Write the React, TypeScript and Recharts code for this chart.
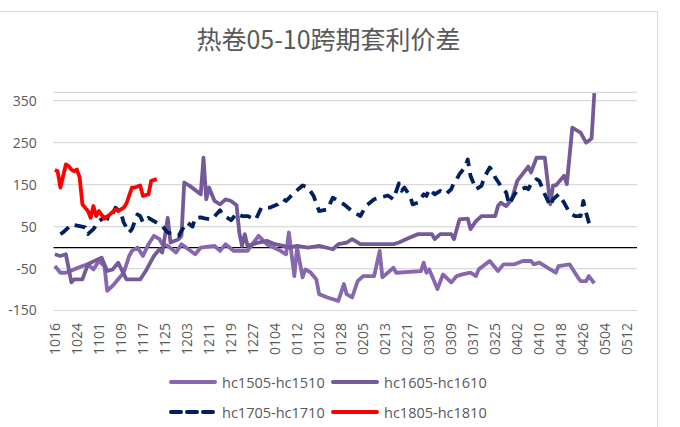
import React from 'react'
import { LineChart, Line, XAxis, YAxis, CartesianGrid, ReferenceLine, Legend } from 'recharts'

// calendar days shown on the date axis (non-leap year)
const monthSpans: Array<[number, number, number]> = [
  [10, 16, 31], [11, 1, 30], [12, 1, 31], [1, 1, 31], [2, 1, 28], [3, 1, 31], [4, 1, 30], [5, 1, 15],
]
const dates: string[] = []
monthSpans.forEach(([m, from, to]) => {
  for (let d = from; d <= to; d++) dates.push(String(m).padStart(2, '0') + String(d).padStart(2, '0'))
})

const yTicks = [-150, -50, 50, 150, 250, 350]

const hc1505: Array<[string, number]> = [
  ['1016', -44], ['1018', -60], ['1020', -60], ['1023', -52], ['1026', -44], ['1028', -40], ['1030', -52],
  ['1101', -32], ['1103', -44], ['1104', -103], ['1106', -91], ['1109', -68], ['1110', -60], ['1112', -20],
  ['1113', -8], ['1115', 0], ['1117', -20], ['1119', 8], ['1121', 28], ['1123', 20], ['1124', 8], ['1126', 4],
  ['1129', -12], ['1201', 8], ['1206', -16], ['1208', 0], ['1213', 4], ['1215', -8], ['1217', 8], ['1220', -8],
  ['1225', -8], ['1229', 28], ['0101', 8], ['0106', -8], ['0108', -16], ['0109', 36], ['0110', -16],
  ['0111', -68], ['0112', 0], ['0114', -71], ['0115', -52], ['0117', -60], ['0119', -76], ['0120', -111],
  ['0123', -119], ['0127', -127], ['0129', -87], ['0130', -111], ['0201', -119], ['0203', -80], ['0205', -68],
  ['0209', -68], ['0211', -8], ['0212', -71], ['0216', -48], ['0217', -60], ['0226', -56], ['0227', -36],
  ['0228', -60], ['0301', -52], ['0304', -99], ['0306', -64], ['0309', -83], ['0311', -68], ['0313', -64],
  ['0316', -60], ['0318', -68], ['0319', -52], ['0323', -32], ['0326', -56], ['0328', -40], ['0401', -40],
  ['0404', -32], ['0407', -32], ['0408', -40], ['0410', -36], ['0414', -52], ['0416', -60], ['0417', -44],
  ['0421', -40], ['0424', -71], ['0425', -80], ['0427', -80], ['0428', -68], ['0430', -85],
]

const hc1605: Array<[string, number]> = [
  ['1016', -16], ['1018', -20], ['1020', -16], ['1022', -83], ['1023', -76], ['1026', -76], ['1028', -40],
  ['1029', -36], ['1102', -24], ['1104', -56], ['1106', -52], ['1108', -36], ['1111', -76], ['1116', -76],
  ['1118', -56], ['1121', -20], ['1123', -4], ['1124', -12], ['1125', 28], ['1126', 71], ['1127', 12],
  ['1130', 20], ['1201', 28], ['1202', 155], ['1204', 147], ['1208', 127], ['1209', 214], ['1210', 115],
  ['1211', 143], ['1213', 111], ['1215', 103], ['1217', 115], ['1219', 111], ['1221', 101], ['1222', 36],
  ['1223', 4], ['1224', 32], ['1225', 4], ['1229', 12], ['0101', 16], ['0104', 8], ['0107', 4], ['0109', 0],
  ['0112', 4], ['0116', 0], ['0120', 4], ['0125', -4], ['0127', 8], ['0130', 12], ['0201', 20], ['0204', 8],
  ['0216', 8], ['0218', 12], ['0222', 24], ['0225', 32], ['0302', 32], ['0303', 20], ['0305', 32],
  ['0309', 32], ['0310', 20], ['0312', 67], ['0315', 69], ['0316', 44], ['0318', 63], ['0320', 75],
  ['0323', 75], ['0325', 75], ['0326', 99], ['0327', 107], ['0329', 99], ['0331', 115], ['0402', 159],
  ['0406', 193], ['0407', 179], ['0409', 214], ['0412', 214], ['0414', 103], ['0415', 148], ['0416', 148],
  ['0419', 171], ['0420', 151], ['0422', 286], ['0425', 274], ['0427', 250], ['0429', 260], ['0430', 368],
]

const hc1705: Array<[string, number]> = [
  ['1018', 32], ['1019', 36], ['1022', 55], ['1025', 51], ['1027', 48], ['1028', 32], ['1030', 44],
  ['1101', 63], ['1103', 72], ['1105', 67], ['1107', 95], ['1109', 83], ['1110', 60], ['1112', 36],
  ['1113', 44], ['1115', 79], ['1116', 75], ['1117', 60], ['1119', 71], ['1121', 63], ['1124', 51],
  ['1126', 36], ['1130', 28], ['1201', 40], ['1203', 60], ['1205', 50], ['1206', 71], ['1208', 72],
  ['1209', 70], ['1212', 67], ['1215', 89], ['1216', 79], ['1219', 65], ['1221', 81], ['1223', 75],
  ['1225', 75], ['1228', 67], ['1230', 95], ['0102', 95], ['0105', 103], ['0107', 115], ['0108', 111],
  ['0111', 131], ['0114', 148], ['0116', 143], ['0118', 123], ['0120', 87], ['0123', 91], ['0125', 119],
  ['0129', 103], ['0201', 87], ['0204', 75], ['0206', 99], ['0209', 115], ['0211', 119], ['0214', 124],
  ['0216', 115], ['0218', 153], ['0219', 135], ['0220', 143], ['0222', 123], ['0223', 103], ['0225', 107],
  ['0227', 127], ['0228', 123], ['0301', 139], ['0303', 127], ['0305', 135], ['0307', 127], ['0309', 139],
  ['0310', 155], ['0311', 163], ['0312', 175], ['0314', 191], ['0315', 210], ['0316', 171], ['0318', 139],
  ['0320', 147], ['0321', 167], ['0323', 191], ['0324', 183], ['0325', 167], ['0327', 147], ['0329', 131],
  ['0330', 103], ['0401', 127], ['0402', 135], ['0405', 143], ['0406', 139], ['0407', 151], ['0409', 163],
  ['0410', 159], ['0412', 127], ['0414', 99], ['0415', 115], ['0417', 127], ['0419', 107], ['0421', 83],
  ['0423', 75], ['0425', 75], ['0426', 111], ['0427', 83], ['0428', 60], ['0429', 45],
]

const hc1805: Array<[string, number]> = [
  ['1016', 185], ['1017', 182], ['1018', 143], ['1020', 198], ['1021', 194], ['1022', 186], ['1023', 182],
  ['1024', 186], ['1025', 167], ['1026', 103], ['1028', 87], ['1029', 71], ['1030', 99], ['1031', 75],
  ['1101', 87], ['1103', 69], ['1105', 79], ['1107', 91], ['1108', 87], ['1110', 95], ['1111', 105],
  ['1113', 143], ['1114', 143], ['1116', 148], ['1117', 123], ['1119', 127], ['1120', 159], ['1122', 163],
]

const series = [
  { key: 'hc1505', name: 'hc1505-hc1510', points: hc1505, color: '#8768AE', dash: undefined },
  { key: 'hc1605', name: 'hc1605-hc1610', points: hc1605, color: '#755A9A', dash: undefined },
  { key: 'hc1705', name: 'hc1705-hc1710', points: hc1705, color: '#002060', dash: '11 7' },
  { key: 'hc1805', name: 'hc1805-hc1810', points: hc1805, color: '#FF0000', dash: undefined },
]

const rows = dates.map((date) => {
  const row: Record<string, string | number> = { date }
  series.forEach((s) => {
    const hit = s.points.find((p) => p[0] === date)
    if (hit) row[s.key] = hit[1]
  })
  return row
})

const FONT = '"Open Sans", "Noto Sans", sans-serif'
const TEXT = '#595959'

function DateTick(props: any) {
  const { x, y, payload } = props
  return (
    <text
      x={x}
      y={y}
      transform={`rotate(-90, ${x}, ${y})`}
      textAnchor="end"
      dy="0.35em"
      fill={TEXT}
      fontSize={14}
      fontFamily={FONT}
    >
      {payload.value}
    </text>
  )
}

function LegendBox() {
  return (
    <div style={{ display: 'grid', gridTemplateColumns: '162px 162px', fontFamily: FONT, fontSize: 14.5, color: TEXT }}>
      {series.map((s) => (
        <div key={s.key} style={{ display: 'flex', alignItems: 'center', height: 30 }}>
          <svg width={48} height={8}>
            <line x1={2} y1={4} x2={46} y2={4} stroke={s.color} strokeWidth={4} strokeDasharray={s.dash ? '10 6' : undefined} strokeLinecap="round" />
          </svg>
          <span style={{ marginLeft: 5 }}>{s.name}</span>
        </div>
      ))}
    </div>
  )
}

export default function App() {
  return (
    <div style={{ position: 'absolute', left: 0, top: 0, width: 680, height: 427, overflow: 'hidden', background: '#fff' }}>
      <div
        style={{
          position: 'absolute', left: -1, top: 11, width: 659, height: 430,
          border: '1px solid #d9d9d9', boxSizing: 'border-box',
        }}
      />
      <div
        style={{
          position: 'absolute', left: 0, top: 26, width: 657, textAlign: 'center',
          fontFamily: '"Noto Sans CJK SC", sans-serif', fontSize: 25, lineHeight: '25px', color: TEXT,
        }}
      >
        热卷05-10跨期套利价差
      </div>
      <div style={{ position: 'absolute', left: 0, top: 0 }}>
        <LineChart width={680} height={427} data={rows} margin={{ top: 92.3, right: 43, bottom: 16.5, left: 0 }}>
          <CartesianGrid vertical={false} stroke="#d9d9d9" strokeWidth={1.2} />
          <XAxis
            dataKey="date"
            scale="band"
            interval={7}
            height={100}
            axisLine={false}
            tickLine={false}
            tickSize={0}
            tickMargin={12.5}
            tick={<DateTick />}
          />
          <YAxis
            type="number"
            domain={[-150, 370]}
            ticks={yTicks}
            width={53.5}
            axisLine={false}
            tickLine={false}
            tickSize={0}
            tickMargin={16.8}
            tick={{ fill: TEXT, fontSize: 14, fontFamily: FONT }}
          />
          <ReferenceLine y={0} stroke="#000" strokeWidth={1.3} />
          {series.map((s) => (
            <Line
              key={s.key}
              dataKey={s.key}
              name={s.name}
              type="linear"
              stroke={s.color}
              strokeWidth={3.8}
              strokeDasharray={s.dash}
              strokeLinejoin="round"
              dot={false}
              activeDot={false}
              connectNulls
              isAnimationActive={false}
            />
          ))}
          <Legend
            layout="horizontal"
            verticalAlign="middle"
            align="center"
            wrapperStyle={{ left: 169, top: 367, width: 340 }}
            content={<LegendBox />}
          />
        </LineChart>
      </div>
    </div>
  )
}
